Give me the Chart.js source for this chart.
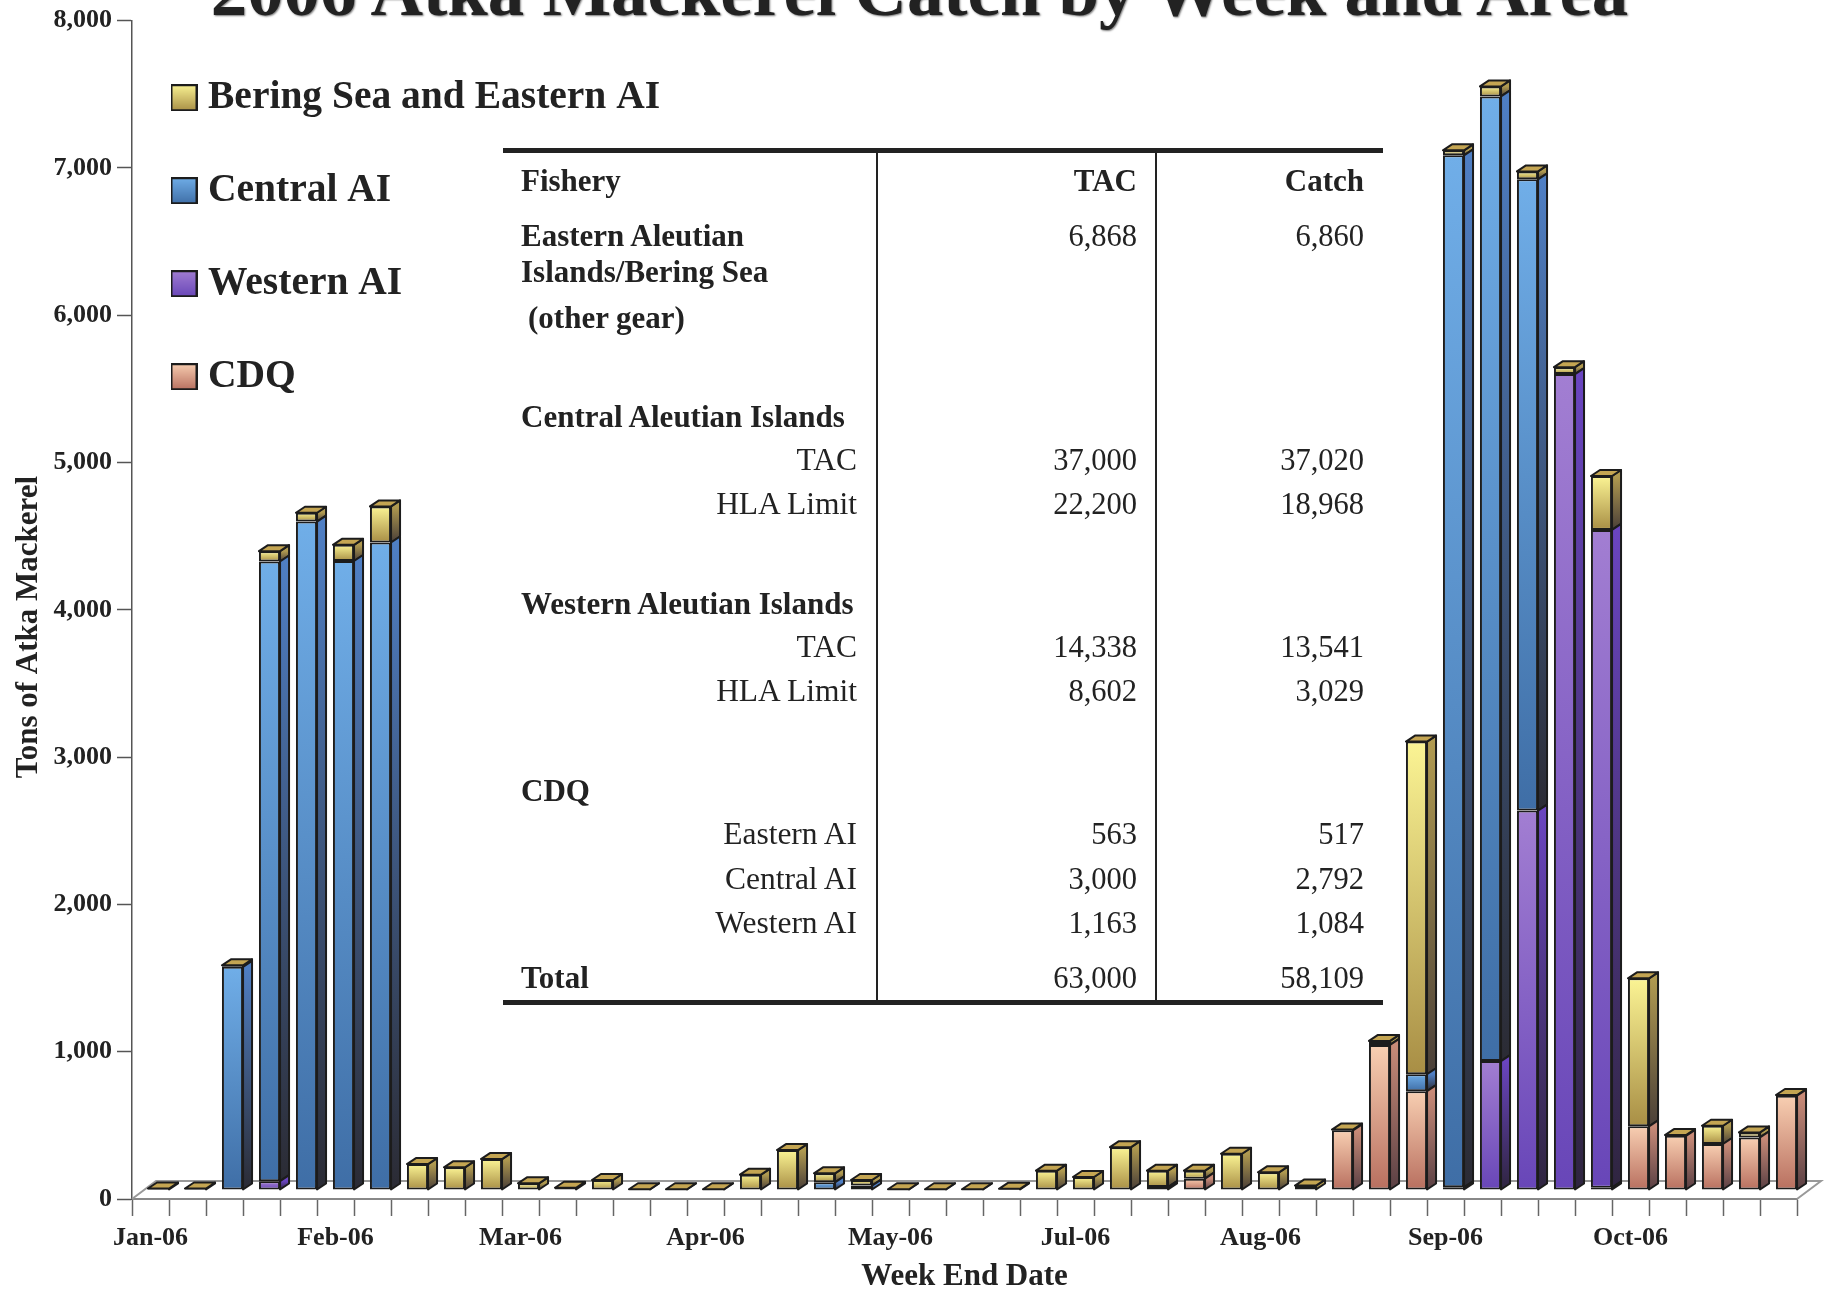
<!DOCTYPE html>
<html>
<head>
<meta charset="utf-8">
<title>2006 Atka Mackerel Catch by Week and Area</title>
<script src="https://cdn.jsdelivr.net/npm/chart.js@4"></script>
<style>
body { margin: 0; background: #fff; overflow: hidden; }
#page { position: relative; width: 1825px; height: 1289px; overflow: hidden; font-family: "Liberation Serif", serif; color: #222; }
#chart { position: absolute; left: 0; top: 0; }
#title { position: absolute; left: 0; width: 1825px; top: -46px; padding-left: 14px; box-sizing: border-box; text-align: center; font-size: 72.8px; line-height: 73px; font-weight: bold; white-space: nowrap; text-shadow: 1px 1px 2px #777; }
.rule { position: absolute; left: 503px; width: 880px; height: 5px; background: #222; }
.vline { position: absolute; top: 150px; height: 852px; width: 2px; background: #222; }
.cell { position: absolute; font-size: 30.5px; line-height: 36px; white-space: nowrap; }
.name { font-size: 31.5px; }
.bold { font-weight: bold; font-size: 31px; }
</style>
</head>
<body>
<div id="page">
  <canvas id="chart" width="1825" height="1289"></canvas>
  <div id="title">2006 Atka Mackerel Catch by Week and Area</div>
  <div class="rule" style="top:148px"></div>
  <div class="rule" style="top:1000px"></div>
  <div class="vline" style="left:876px"></div>
  <div class="vline" style="left:1155px"></div>
  <div id="table"></div>
</div>
<script>
const weeks = ['Jan-06','','','','','Feb-06','','','','','Mar-06','','','','','Apr-06','','','','','May-06','','','','','Jul-06','','','','','Aug-06','','','','','Sep-06','','','','','Oct-06','','','',''];
const bering = [10,10,10,70,60,110,245,176,154,210,45,15,68,5,5,5,104,271,61,38,5,5,5,8,131,88,291,111,54,246,120,30,5,27,2258,34,68,54,47,366,1005,5,124,34,5];
const central = [0,0,1515,4207,4538,4270,4396,0,0,0,0,0,0,0,0,0,0,0,52,30,0,0,0,0,0,0,0,0,0,0,0,0,0,0,115,7006,6549,4285,0,0,0,0,0,0,0];
const western = [0,0,0,60,0,0,0,0,0,0,0,0,0,0,0,0,0,0,0,0,0,0,0,0,0,0,0,20,0,0,0,0,0,0,0,18,875,2576,5539,4465,0,0,0,0,0];
const cdq = [0,0,0,0,0,0,0,0,0,0,0,0,0,0,0,0,0,0,0,0,0,0,0,0,0,0,0,0,77,0,0,0,405,985,671,0,0,0,0,16,432,368,312,357,640];
const yTicks = [0,1000,2000,3000,4000,5000,6000,7000,8000];

// table text
const tableLabels = ['Fishery','Eastern Aleutian','Islands/Bering Sea',' (other gear)','Central Aleutian Islands','TAC','HLA Limit','Western Aleutian Islands','TAC','HLA Limit','CDQ','Eastern AI','Central AI','Western AI','Total'];
const tableTac = ['TAC','6,868','','','','37,000','22,200','','14,338','8,602','','563','3,000','1,163','63,000'];
const tableCatch = ['Catch','6,860','','','','37,020','18,968','','13,541','3,029','','517','2,792','1,084','58,109'];
const tableIndent = [0,0,0,0,0,1,1,0,1,1,0,1,1,1,0];
const tableRowY = [180,235,271,317,416,459,503,603,646,690,790,833,878,922,977];

const seriesStyle = [
  { label: 'CDQ', data: cdq, front: ['#f8cfb2','#b86f5f'], side: ['#c98b78','#5a4044'] },
  { label: 'Western AI', data: western, front: ['#a27ed2','#6846b8'], side: ['#6a45c0','#2f2540'] },
  { label: 'Central AI', data: central, front: ['#70aee8','#3f6ea6'], side: ['#4f7fc4','#2b2b34'] },
  { label: 'Bering Sea and Eastern AI', data: bering, front: ['#fbf494','#a88e45'], side: ['#b09a50','#4a3f38'] }
];
const edge = '#1c1c1c';
const depthX = 9, depthY = 6;   // extrusion of each bar
const floorX = 24, floorY = 18; // depth of the floor
const shiftX = 8, shiftY = 9;   // bars stand in the middle of the floor

// bottom of a segment in data units
function stackBase(i, k) {
  let s = 0;
  for (let j = 0; j < i; j++) s += seriesStyle[j].data[k];
  return s;
}

function frontFill(c) {
  const st = seriesStyle[c.datasetIndex];
  if (c.dataIndex === undefined) return st.front[0];
  const y = c.chart.scales.y;
  const b = stackBase(c.datasetIndex, c.dataIndex);
  const g = c.chart.ctx.createLinearGradient(0, y.getPixelForValue(b + st.data[c.dataIndex]), 0, y.getPixelForValue(b));
  g.addColorStop(0, st.front[0]);
  g.addColorStop(1, st.front[1]);
  return g;
}

function legendIcon(colors) {
  const cv = document.createElement('canvas');
  cv.width = 27; cv.height = 27;
  const c = cv.getContext('2d');
  const g = c.createLinearGradient(0, 0, 0, 27);
  g.addColorStop(0, colors[0]);
  g.addColorStop(1, colors[1]);
  c.fillStyle = g;
  c.fillRect(0, 0, 27, 27);
  c.strokeStyle = edge;
  c.lineWidth = 2;
  c.strokeRect(1, 1, 25, 25);
  return cv;
}

function poly(ctx, pts, fill) {
  ctx.beginPath();
  pts.forEach((p, n) => n ? ctx.lineTo(p[0], p[1]) : ctx.moveTo(p[0], p[1]));
  ctx.closePath();
  ctx.fillStyle = fill;
  ctx.fill();
  ctx.stroke();
}

const barDepth = {
  id: 'barDepth',
  beforeDatasetsDraw(chart) {
    const ctx = chart.ctx;
    const x = chart.scales.x, y0 = chart.scales.y.getPixelForValue(0);
    ctx.save();
    ctx.strokeStyle = '#999';
    ctx.lineWidth = 2;
    ctx.beginPath();
    ctx.moveTo(x.left, y0);
    ctx.lineTo(x.left + floorX, y0 - floorY);
    ctx.lineTo(x.right + floorX, y0 - floorY);
    ctx.lineTo(x.right, y0);
    ctx.stroke();
    ctx.restore();
    ctx.save();
    ctx.translate(shiftX, -shiftY);
  },
  afterDatasetDraw(chart, args) {
    const ctx = chart.ctx;
    const i = args.index, st = seriesStyle[i];
    ctx.save();
    ctx.strokeStyle = edge;
    ctx.lineWidth = 2;
    ctx.lineJoin = 'round';
    chart.getDatasetMeta(i).data.forEach((bar, k) => {
      if (!st.data[k]) return;
      const l = bar.x - bar.width / 2, r = bar.x + bar.width / 2;
      const g = ctx.createLinearGradient(0, bar.y, 0, bar.base);
      g.addColorStop(0, st.side[0]);
      g.addColorStop(1, st.side[1]);
      poly(ctx, [[r, bar.y], [r + depthX, bar.y - depthY], [r + depthX, bar.base - depthY], [r, bar.base]], g);
      let above = 0;
      for (let j = i + 1; j < seriesStyle.length; j++) above += seriesStyle[j].data[k];
      if (!above) {
        poly(ctx, [[l, bar.y], [l + depthX, bar.y - depthY], [r + depthX, bar.y - depthY], [r, bar.y]], '#c4a552');
      }
    });
    ctx.restore();
  },
  afterDatasetsDraw(chart) {
    chart.ctx.restore();
  },
  afterLayout(chart) {
    // legend sits inside the plot, at the top left
    const lg = chart.legend;
    const pad = lg.options.labels.padding;
    lg.left = 179.75 - pad;
    lg.right = 800;
    lg.top = 78 - pad;
    lg.bottom = 462;
  },
  afterDraw(chart) {
    // y axis title is not centred on the axis in this chart
    const ctx = chart.ctx;
    ctx.save();
    ctx.translate(29, 627);
    ctx.rotate(-Math.PI / 2);
    ctx.font = 'bold 31px "Liberation Serif", serif';
    ctx.fillStyle = '#222';
    ctx.textAlign = 'center';
    ctx.textBaseline = 'middle';
    ctx.fillText('Tons of Atka Mackerel', 0, 0);
    ctx.restore();
  }
};

Chart.defaults.font.family = '"Liberation Serif", serif';
Chart.defaults.color = '#222';

new Chart(document.getElementById('chart'), {
  type: 'bar',
  plugins: [barDepth],
  data: {
    labels: weeks,
    datasets: seriesStyle.map(s => ({
      label: s.label,
      data: s.data.map(v => v || null),
      backgroundColor: frontFill,
      borderColor: edge,
      borderWidth: 2,
      borderSkipped: false,
      barPercentage: 0.57,
      categoryPercentage: 1,
      clip: false
    }))
  },
  options: {
    responsive: false,
    animation: false,
    layout: { autoPadding: false, padding: { top: 15, right: 28, left: 0, bottom: 0 } },
    plugins: {
      title: { display: false },
      tooltip: { enabled: false },
      legend: {
        position: 'chartArea',
        align: 'start',
        reverse: true,
        labels: {
          usePointStyle: true,
          pointStyleWidth: 8.5,
          padding: 53.5,
          color: '#222',
          font: { size: 39.5, weight: 'bold' },
          generateLabels: () => seriesStyle.map((s, i) => ({
            text: s.label,
            datasetIndex: i,
            hidden: false,
            fontColor: '#222',
            pointStyle: legendIcon(s.front)
          }))
        }
      }
    },
    scales: {
      x: {
        stacked: true,
        afterFit: s => { s.height = 90; },
        border: { color: '#888', width: 2 },
        grid: { offset: true, drawOnChartArea: false, tickLength: 17, tickColor: '#666', tickWidth: 1.5 },
        ticks: { autoSkip: false, maxRotation: 0, minRotation: 0, padding: 7, font: { size: 26, weight: 'bold' } },
        title: { display: true, text: 'Week End Date', padding: { top: 0, bottom: -3 }, font: { size: 31, weight: 'bold', lineHeight: 1 } }
      },
      y: {
        stacked: true,
        min: 0,
        max: 8000,
        afterFit: s => { s.width = 132; },
        afterBuildTicks: s => { s.ticks = yTicks.map(v => ({ value: v })); },
        border: { color: '#555', width: 1.5 },
        grid: { drawOnChartArea: false, tickLength: 15, tickColor: '#555', tickWidth: 1.5 },
        ticks: { padding: 5, font: { size: 26, weight: 'bold' }, callback: v => v.toLocaleString('en-US') }
      }
    }
  }
});

// table over the plot
const table = document.getElementById('table');
function addCell(text, y, css, cls) {
  if (!text) return;
  const d = document.createElement('div');
  d.className = 'cell ' + cls;
  d.textContent = text;
  d.style.top = (y - 17) + 'px';
  d.style.cssText += css;
  table.appendChild(d);
}
tableLabels.forEach((t, r) => {
  const y = tableRowY[r];
  if (tableIndent[r]) addCell(t, y, 'right:' + (1825 - 857) + 'px', 'name');
  else addCell(t, y, 'left:' + (t.startsWith(' ') ? 528 : 521) + 'px', 'bold');
  addCell(tableTac[r], y, 'right:' + (1825 - 1137) + 'px', r === 0 ? 'bold' : '');
  addCell(tableCatch[r], y, 'right:' + (1825 - 1364) + 'px', r === 0 ? 'bold' : '');
});
</script>
</body>
</html>
